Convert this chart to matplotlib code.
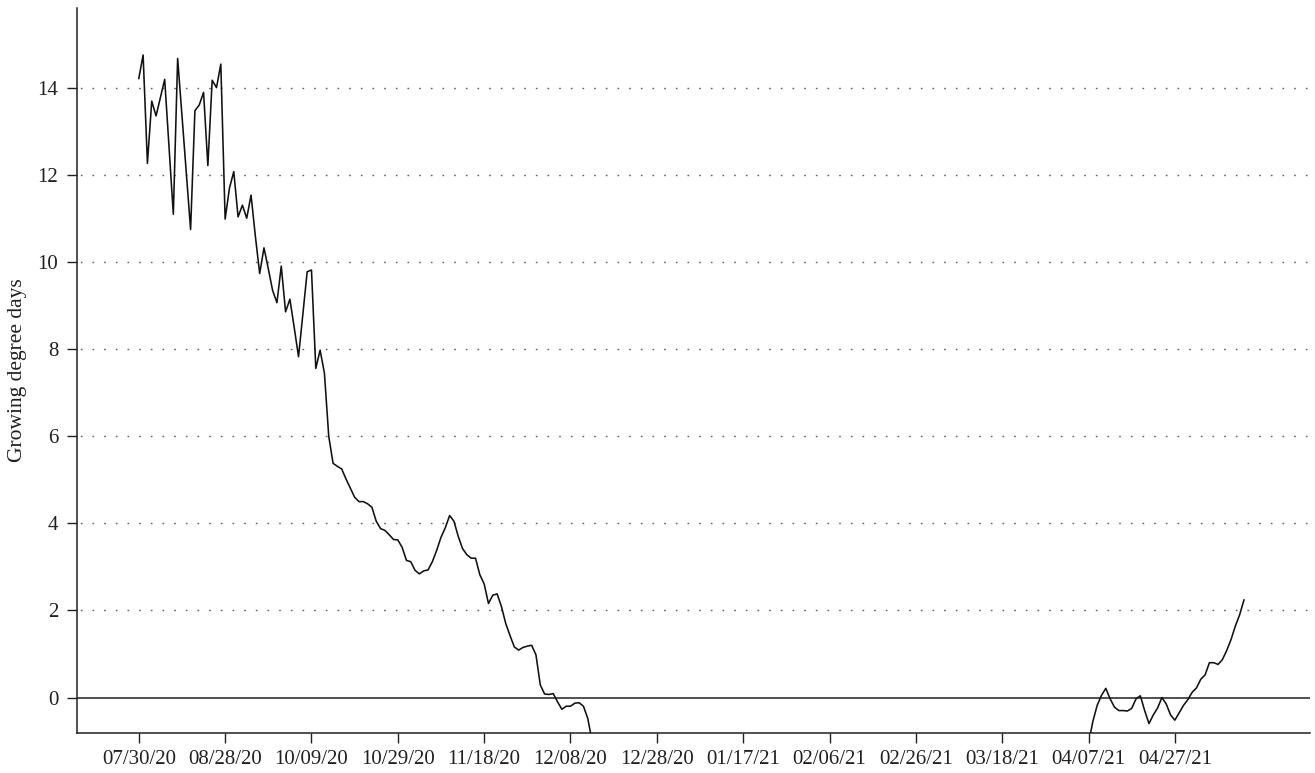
import numpy as np
import matplotlib.pyplot as plt

# daily growing degree days, indexed by observation day (day 0 = 07/30/20)
autumn_start = 0
autumn_gdd = [
    14.22, 14.76, 12.27, 13.70, 13.36, 13.78, 14.20, 12.65, 11.10, 14.68,
    13.37, 12.06, 10.75, 13.48, 13.61, 13.90, 12.22, 14.18, 14.01, 14.55,
    10.99, 11.70, 12.08, 11.04, 11.31, 11.01, 11.54, 10.60, 9.74, 10.33,
    9.85, 9.35, 9.07, 9.91, 8.86, 9.15, 8.50, 7.83, 8.80, 9.78,
    9.82, 7.56, 7.98, 7.45, 6.00, 5.38, 5.31, 5.25, 5.02, 4.81,
    4.60, 4.50, 4.50, 4.45, 4.37, 4.05, 3.88, 3.84, 3.74, 3.63,
    3.62, 3.45, 3.15, 3.12, 2.92, 2.84, 2.91, 2.93, 3.12, 3.38,
    3.68, 3.90, 4.18, 4.05, 3.70, 3.42, 3.28, 3.20, 3.20, 2.82,
    2.61, 2.16, 2.35, 2.38, 2.09, 1.70, 1.42, 1.16, 1.09, 1.15,
    1.18, 1.20, 0.98, 0.29, 0.08, 0.07, 0.09, -0.10, -0.27, -0.20,
    -0.20, -0.13, -0.12, -0.20, -0.48, -1.00,
]

spring_start = 220
spring_gdd = [
    -1.05, -0.55, -0.18, 0.05, 0.21, -0.03, -0.22, -0.30, -0.30, -0.31,
    -0.25, -0.03, 0.04, -0.30, -0.60, -0.40, -0.24, 0.00, -0.15, -0.40,
    -0.52, -0.35, -0.18, -0.05, 0.12, 0.22, 0.42, 0.52, 0.80, 0.80,
    0.76, 0.87, 1.08, 1.33, 1.64, 1.90, 2.24,
]

tick_labels = [
    '07/30/20', '08/28/20', '10/09/20', '10/29/20', '11/18/20', '12/08/20',
    '12/28/20', '01/17/21', '02/06/21', '02/26/21', '03/18/21', '04/07/21',
    '04/27/21',
]
tick_step = 20
y_ticks = [0, 2, 4, 6, 8, 10, 12, 14]

TEXT = '#231f20'


def plot_gdd():
    plt.rcParams['font.family'] = ['Liberation Serif', 'DejaVu Serif']

    fig = plt.figure(figsize=(13.15, 7.73), dpi=100)
    ax = fig.add_axes([0.0586, 0.0517, 0.9376, 0.9380])

    # dotted reference lines, solid zero line
    for yv in y_ticks[1:]:
        ax.axhline(yv, color='#5e5e5e', lw=1.0, linestyle=(6, (1.2, 7.2)), zorder=1)
    ax.axhline(0, color='#231f20', lw=1.1, zorder=2)

    x1 = np.arange(autumn_start, autumn_start + len(autumn_gdd))
    x2 = np.arange(spring_start, spring_start + len(spring_gdd))
    ax.plot(x1, autumn_gdd, color='#111111', lw=1.15, zorder=3)
    ax.plot(x2, spring_gdd, color='#111111', lw=1.15, zorder=3)

    ax.set_xlim(-14.3, 271.3)
    ax.set_ylim(-0.816, 15.84)

    ax.set_xticks([i * tick_step for i in range(len(tick_labels))])
    ax.set_xticklabels(tick_labels)
    ax.set_yticks(y_ticks)

    ax.tick_params(axis='both', direction='out', length=7.5, width=1.0,
                   color=TEXT, labelcolor=TEXT, labelsize=15)
    ax.tick_params(axis='y', pad=6)
    ax.tick_params(axis='x', pad=5)

    for side in ['top', 'right']:
        ax.spines[side].set_visible(False)
    for side in ['left', 'bottom']:
        ax.spines[side].set_color(TEXT)
        ax.spines[side].set_linewidth(1.1)

    ax.set_ylabel('Growing degree days', fontsize=15.5, color=TEXT)
    ax.yaxis.set_label_coords(-0.0405, 0.5)

    fig.savefig('out.png', dpi=100)


if __name__ == "__main__":
    plot_gdd()
